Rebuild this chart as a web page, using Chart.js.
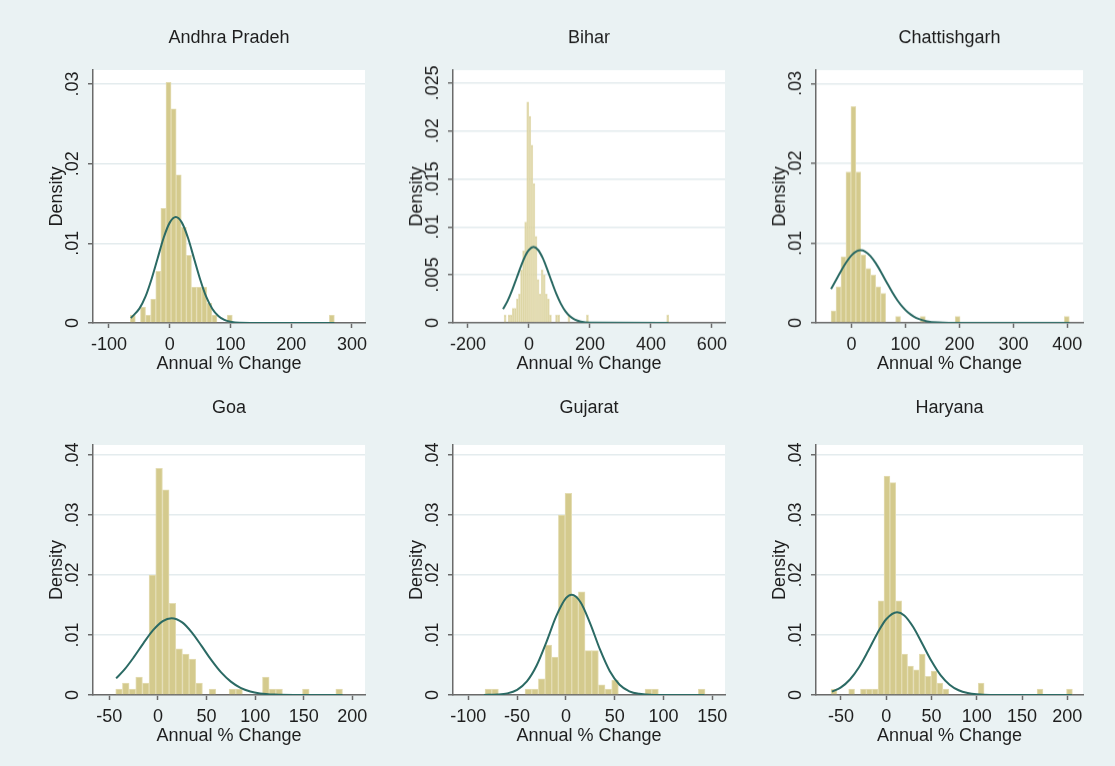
<!DOCTYPE html>
<html>
<head>
<meta charset="utf-8">
<title>Annual % Change by State</title>
<script src="https://cdn.jsdelivr.net/npm/chart.js@4.4.1/dist/chart.umd.min.js"></script>
<style>
  html, body { margin: 0; padding: 0; background: #eaf2f3; }
  #board { position: relative; width: 1115px; height: 766px; overflow: hidden; background: #eaf2f3; }
  #board canvas { position: absolute; }
</style>
</head>
<body>
<div id="board"></div>
<script>
// ---------- Histogram bins: first edge, bin width, density per bin ----------
const andhraBinStart = -65, andhraBinWidth = 8.4;
const andhraDensity = [
  0.001, 0, 0.002, 0.001, 0.003, 0.0065, 0.0144, 0.0302, 0.0269, 0.0186,
  0.012, 0.0085, 0.0045, 0.0045, 0.0045, 0.0025, 0.001, 0, 0, 0.001,
  0, 0, 0, 0, 0, 0, 0, 0, 0, 0,
  0, 0, 0, 0, 0, 0, 0, 0, 0, 0.001
];

const biharBinStart = -81.5, biharBinWidth = 6.75;
const biharDensity = [
  0.0008, 0, 0.0008, 0.0008, 0.0015, 0.0015, 0.0025, 0.003, 0.0055, 0.0075,
  0.0105, 0.023, 0.0215, 0.0185, 0.0145, 0.009, 0.0045, 0.003, 0.0055, 0.005,
  0.003, 0.0025, 0.0008, 0, 0, 0.0008, 0.0008, 0, 0, 0,
  0, 0.0008, 0, 0, 0, 0, 0, 0, 0, 0,
  0.0008, 0, 0, 0, 0, 0, 0, 0, 0, 0,
  0, 0, 0, 0, 0, 0, 0, 0, 0, 0,
  0, 0, 0, 0, 0, 0, 0, 0, 0, 0,
  0, 0, 0, 0, 0, 0, 0, 0, 0, 0.0008
];

const chhattisBinStart = -38, chhattisBinWidth = 9.2;
const chhattisDensity = [
  0.0015, 0.0045, 0.0083, 0.0189, 0.0271, 0.0189, 0.0085, 0.0068, 0.006, 0.0045,
  0.0037, 0, 0, 0.0008, 0, 0, 0, 0, 0.0008, 0,
  0, 0, 0, 0, 0, 0.0008, 0, 0, 0, 0,
  0, 0, 0, 0, 0, 0, 0, 0, 0, 0,
  0, 0, 0, 0, 0, 0, 0, 0.0008
];

const goaBinStart = -43.4, goaBinWidth = 6.86;
const goaDensity = [
  0.001, 0.002, 0.001, 0.003, 0.002, 0.020, 0.0378, 0.0342, 0.0153, 0.0077,
  0.0068, 0.006, 0.002, 0, 0.001, 0, 0, 0.001, 0.001, 0,
  0, 0, 0.003, 0.001, 0.001, 0, 0, 0, 0.001, 0,
  0, 0, 0, 0.001
];

const gujaratBinStart = -82.86, gujaratBinWidth = 6.83;
const gujaratDensity = [
  0.001, 0.001, 0, 0, 0, 0, 0.001, 0.001, 0.0027, 0.0083,
  0.0063, 0.030, 0.0336, 0.0165, 0.0172, 0.0074, 0.0074, 0.0017, 0.001, 0.0025,
  0, 0, 0, 0, 0.001, 0.001, 0, 0, 0, 0,
  0, 0, 0.001
];

const haryanaBinStart = -60.9, haryanaBinWidth = 6.5;
const haryanaDensity = [
  0.001, 0, 0, 0.001, 0, 0.001, 0.001, 0.001, 0.0157, 0.0365,
  0.0354, 0.0157, 0.0068, 0.0048, 0.0042, 0.0068, 0.0031, 0.004, 0.002, 0.001,
  0, 0, 0, 0, 0, 0.002, 0, 0, 0, 0,
  0, 0, 0, 0, 0, 0.001, 0, 0, 0, 0,
  0.001
];

// ---------- Normal density overlays (x, density) ----------
const andhraCurveX = [-64, -50, -40, -30, -20, -10, 0, 10, 20, 30, 40, 50, 60, 70, 80, 90, 100, 115, 140, 271];
const andhraCurveY = [0.00063, 0.0018, 0.0033, 0.0055, 0.0081, 0.0107, 0.0126, 0.0133, 0.0126, 0.0107, 0.0081, 0.0055, 0.0033, 0.0018, 0.00088, 0.00038, 0.00015, 0.00002, 0, 0];

const biharCurveX = [-85, -70, -55, -40, -25, -10, 0, 15, 30, 45, 60, 75, 90, 105, 120, 135, 150, 170, 200, 458];
const biharCurveY = [0.00143, 0.00229, 0.00341, 0.0047, 0.006, 0.0071, 0.0076, 0.0079, 0.0076, 0.00677, 0.00558, 0.00426, 0.00301, 0.00197, 0.00119, 0.00067, 0.00035, 0.00013, 0.00002, 0];

const chhattisCurveX = [-38, -30, -20, -10, 0, 10, 17, 25, 35, 45, 55, 65, 75, 85, 95, 105, 115, 125, 140, 160, 180, 404];
const chhattisCurveY = [0.00425, 0.00521, 0.00644, 0.00757, 0.00847, 0.00899, 0.0091, 0.00895, 0.00838, 0.00746, 0.00632, 0.00509, 0.00389, 0.00283, 0.00196, 0.00128, 0.00081, 0.00048, 0.0002, 0.00005, 0.00001, 0];

const goaCurveX = [-43, -35, -25, -15, -5, 5, 14, 25, 35, 45, 55, 65, 75, 85, 95, 105, 120, 140, 190];
const goaCurveY = [0.00278, 0.00413, 0.00626, 0.00861, 0.0108, 0.01232, 0.0128, 0.0121, 0.0104, 0.00814, 0.0058, 0.00376, 0.00223, 0.00119, 0.00058, 0.00026, 0.00007, 0.00001, 0];

const gujaratCurveX = [-84, -70, -60, -50, -40, -30, -20, -10, 0, 6, 15, 25, 35, 45, 55, 65, 75, 90, 142];
const gujaratCurveY = [0.00001, 0.00007, 0.00027, 0.00087, 0.00226, 0.00491, 0.00882, 0.0131, 0.01613, 0.0167, 0.01547, 0.01187, 0.00755, 0.00396, 0.00172, 0.00062, 0.00019, 0.00002, 0];

const haryanaCurveX = [-60, -50, -40, -30, -20, -10, 0, 12, 20, 30, 40, 50, 60, 70, 80, 90, 100, 115, 205];
const haryanaCurveY = [0.00055, 0.00127, 0.00258, 0.00462, 0.00732, 0.01022, 0.01263, 0.0138, 0.01326, 0.01129, 0.00849, 0.00565, 0.00331, 0.00172, 0.00079, 0.00032, 0.00011, 0.00002, 0];

// ---------- Axis ticks ----------
const andhraXTicks = [-100, 0, 100, 200, 300];
const biharXTicks = [-200, 0, 200, 400, 600];
const chhattisXTicks = [0, 100, 200, 300, 400];
const goaXTicks = [-50, 0, 50, 100, 150, 200];
const gujaratXTicks = [-100, -50, 0, 50, 100, 150];
const haryanaXTicks = [-50, 0, 50, 100, 150, 200];

const yTicks03 = [0, 0.01, 0.02, 0.03];
const yLabels03 = ['0', '.01', '.02', '.03'];
const yTicks025 = [0, 0.005, 0.01, 0.015, 0.02, 0.025];
const yLabels025 = ['0', '.005', '.01', '.015', '.02', '.025'];
const yTicks04 = [0, 0.01, 0.02, 0.03, 0.04];
const yLabels04 = ['0', '.01', '.02', '.03', '.04'];

const stateNames = ['Andhra Pradeh', 'Bihar', 'Chattishgarh', 'Goa', 'Gujarat', 'Haryana'];
const xAxisTitle = 'Annual % Change';
const yAxisTitle = 'Density';

// ---------- Styling ----------
const FONT = "'Liberation Sans', Arial, Helvetica, sans-serif";
const TEXT = '#1e1e1e';
const AXIS = '#6a6a6a';
const GRID = '#e4ecee';
const BAR = '#d4ca8d';
const BAR_EDGE = '#e4ddb4';
const CURVE = '#2b6a64';

const bins = (start, width, heights) =>
  heights.map((h, i) => ({ x: start + (i + 0.5) * width, y: h }));
const pairs = (xs, ys) => xs.map((x, i) => ({ x, y: ys[i] }));

const panels = [
  { name: stateNames[0], bars: bins(andhraBinStart, andhraBinWidth, andhraDensity), curve: pairs(andhraCurveX, andhraCurveY),
    xTicks: andhraXTicks, yTicks: yTicks03, yLabels: yLabels03,
    xMin: -126.3, xMax: 321.4, yMax: 0.03176, box: { left: 93, top: 70, width: 272, height: 253 }, titleGap: 32 },
  { name: stateNames[1], bars: bins(biharBinStart, biharBinWidth, biharDensity), curve: pairs(biharCurveX, biharCurveY),
    xTicks: biharXTicks, yTicks: yTicks025, yLabels: yLabels025,
    xMin: -249, xMax: 643, yMax: 0.02632, box: { left: 453, top: 70, width: 272, height: 252.5 }, titleGap: 32 },
  { name: stateNames[2], bars: bins(chhattisBinStart, chhattisBinWidth, chhattisDensity), curve: pairs(chhattisCurveX, chhattisCurveY),
    xTicks: chhattisXTicks, yTicks: yTicks03, yLabels: yLabels03,
    xMin: -65.9, xMax: 429, yMax: 0.03167, box: { left: 816, top: 70, width: 267, height: 252.5 }, titleGap: 32 },
  { name: stateNames[3], bars: bins(goaBinStart, goaBinWidth, goaDensity), curve: pairs(goaCurveX, goaCurveY),
    xTicks: goaXTicks, yTicks: yTicks04, yLabels: yLabels04,
    xMin: -66.8, xMax: 213, yMax: 0.04167, box: { left: 93, top: 445, width: 272, height: 250 }, titleGap: 37 },
  { name: stateNames[4], bars: bins(gujaratBinStart, gujaratBinWidth, gujaratDensity), curve: pairs(gujaratCurveX, gujaratCurveY),
    xTicks: gujaratXTicks, yTicks: yTicks04, yLabels: yLabels04,
    xMin: -115.7, xMax: 163, yMax: 0.04167, box: { left: 453, top: 445, width: 272, height: 250 }, titleGap: 37 },
  { name: stateNames[5], bars: bins(haryanaBinStart, haryanaBinWidth, haryanaDensity), curve: pairs(haryanaCurveX, haryanaCurveY),
    xTicks: haryanaXTicks, yTicks: yTicks04, yLabels: yLabels04,
    xMin: -77.5, xMax: 217.3, yMax: 0.04167, box: { left: 816, top: 445, width: 267, height: 250 }, titleGap: 37 }
];

// Plot region is white on the tinted graph region
const whitePlotArea = {
  id: 'whitePlotArea',
  beforeDraw(chart) {
    const { ctx, chartArea: a } = chart;
    ctx.save();
    ctx.fillStyle = '#ffffff';
    ctx.fillRect(a.left, a.top, a.right - a.left, a.bottom - a.top);
    ctx.restore();
  }
};

// Vertical (rotated) value labels on the density axis
const rotatedYLabels = {
  id: 'rotatedYLabels',
  afterDraw(chart, args, opts) {
    const scale = chart.scales.y;
    const { ctx } = chart;
    ctx.save();
    ctx.fillStyle = TEXT;
    ctx.font = `18px ${FONT}`;
    ctx.textAlign = 'center';
    ctx.textBaseline = 'middle';
    scale.ticks.forEach((t, i) => {
      const y = scale.getPixelForValue(t.value);
      ctx.save();
      ctx.translate(chart.chartArea.left - opts.gap, y);
      ctx.rotate(-Math.PI / 2);
      ctx.fillText(opts.labels[i], 0, 0);
      ctx.restore();
    });
    ctx.restore();
  }
};

const LEFT_BAND = 70, RIGHT_BAND = 12, TOP_BAND = 50, BOTTOM_BAND = 60;
const board = document.getElementById('board');

panels.forEach((p) => {
  const canvas = document.createElement('canvas');
  const w = LEFT_BAND + p.box.width + RIGHT_BAND;
  const h = TOP_BAND + p.box.height + BOTTOM_BAND;
  canvas.width = w; canvas.height = h;
  canvas.style.width = w + 'px'; canvas.style.height = h + 'px';
  canvas.style.left = (p.box.left - LEFT_BAND) + 'px';
  canvas.style.top = (p.box.top - TOP_BAND) + 'px';
  board.appendChild(canvas);

  const titleCenter = TOP_BAND - p.titleGap;
  new Chart(canvas, {
    type: 'bar',
    data: {
      datasets: [
        { type: 'line', data: p.curve, borderColor: CURVE, borderWidth: 2, pointRadius: 0,
          cubicInterpolationMode: 'monotone', fill: false, order: 0 },
        { type: 'bar', data: p.bars, backgroundColor: BAR, borderColor: BAR_EDGE, borderWidth: 1,
          barPercentage: 1, categoryPercentage: 1, order: 1 }
      ]
    },
    options: {
      responsive: false,
      animation: false,
      devicePixelRatio: 1,
      events: [],
      layout: { padding: { left: 0, right: RIGHT_BAND, top: 0, bottom: 0 }, autoPadding: false },
      plugins: {
        legend: { display: false },
        tooltip: { enabled: false },
        title: {
          display: true, text: p.name, color: TEXT, fullSize: false,
          font: { family: FONT, size: 18, weight: 'normal', lineHeight: 1.2 },
          padding: { top: titleCenter - 10.8, bottom: TOP_BAND - titleCenter - 10.8 }
        },
        rotatedYLabels: { labels: p.yLabels, gap: 19.7 }
      },
      scales: {
        x: {
          type: 'linear', min: p.xMin, max: p.xMax, offset: false,
          afterBuildTicks: (s) => { s.ticks = p.xTicks.map((v) => ({ value: v })); },
          afterFit: (s) => { s.height = BOTTOM_BAND; },
          grid: { display: true, offset: false, drawOnChartArea: false, drawTicks: true,
                  tickLength: 5, tickColor: AXIS, tickWidth: 1.5 },
          border: { display: true, color: AXIS, width: 1.5 },
          ticks: { autoSkip: false, maxRotation: 0, minRotation: 0, padding: 6.2, color: TEXT,
                   font: { family: FONT, size: 18 }, callback: (v) => String(v) },
          title: { display: true, text: xAxisTitle, color: TEXT,
                   font: { family: FONT, size: 18 }, padding: { top: 0, bottom: BOTTOM_BAND - 41 - 10.8 } }
        },
        y: {
          type: 'linear', min: 0, max: p.yMax,
          afterBuildTicks: (s) => { s.ticks = p.yTicks.map((v) => ({ value: v })); },
          afterFit: (s) => { s.width = LEFT_BAND; },
          grid: { display: true, color: GRID, lineWidth: 1.5, drawTicks: true,
                  tickLength: 5, tickColor: AXIS, tickWidth: 1.5 },
          border: { display: true, color: AXIS, width: 1.5 },
          ticks: { display: false },
          title: { display: true, text: yAxisTitle, color: TEXT,
                   font: { family: FONT, size: 18 }, padding: { top: LEFT_BAND - 36 - 10.8, bottom: 0 } }
        }
      }
    },
    plugins: [whitePlotArea, rotatedYLabels]
  });
});
</script>
</body>
</html>
